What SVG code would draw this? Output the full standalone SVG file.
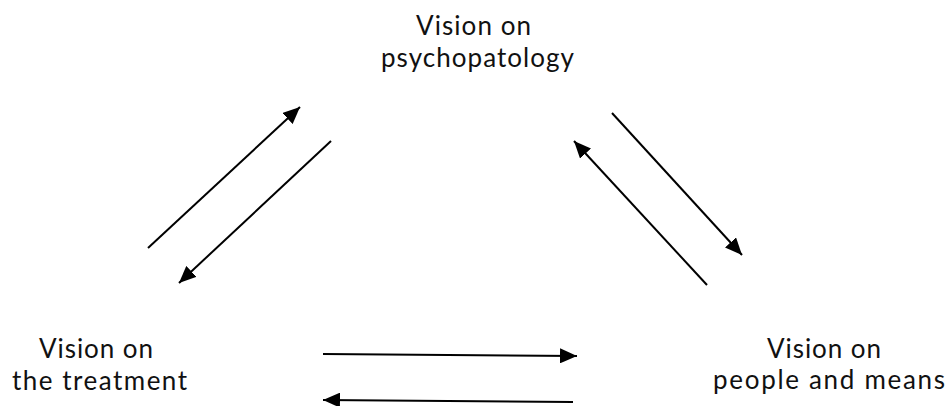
<svg xmlns="http://www.w3.org/2000/svg" width="949" height="406" viewBox="0 0 949 406">
<style>
.lbl{font-family:Lato,"Open Sans",sans-serif;font-size:26px;fill:#111}
.c{stroke:#000;stroke-width:2;fill:none;marker-end:url(#ah)}
</style>
<defs>
<marker id="ah" markerUnits="userSpaceOnUse" markerWidth="17" markerHeight="15" viewBox="0 0 17 15" refX="17" refY="7.5" orient="auto">
<path d="M0,0 L17,7.5 L0,15 Z" fill="#000"/>
</marker>
</defs>
<rect width="949" height="406" fill="#fff"/>
<g id="node-psychopatology">
<text class="lbl" lengthAdjust="spacing"><tspan x="416" y="35" textLength="115">Vision on</tspan><tspan x="381" y="67" textLength="193">psychopatology</tspan></text>
</g>
<g id="node-treatment">
<text class="lbl" lengthAdjust="spacing"><tspan x="39" y="358" textLength="114">Vision on</tspan><tspan x="12" y="390" textLength="175">the treatment</tspan></text>
</g>
<g id="node-people">
<text class="lbl" lengthAdjust="spacing"><tspan x="767" y="358" textLength="114">Vision on</tspan><tspan x="713" y="389" textLength="232">people and means</tspan></text>
</g>
<g id="connectors">
<path class="c" d="M148,248 L300,107"/>
<path class="c" d="M331,141 L179,283"/>
<path class="c" d="M612,113 L742,255"/>
<path class="c" d="M707,285 L574,141"/>
<path class="c" d="M323,354 L577,356"/>
<path class="c" d="M573,402 L323,400"/>
</g>
</svg>
